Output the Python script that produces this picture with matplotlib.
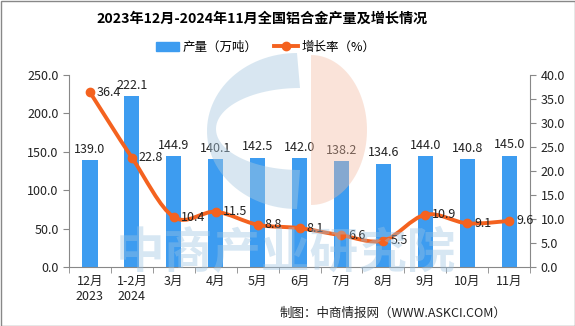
import numpy as np
import matplotlib
matplotlib.use('Agg')
import matplotlib.pyplot as plt
from matplotlib.path import Path
from matplotlib.patches import PathPatch, Rectangle
from matplotlib.lines import Line2D

plt.rcParams['font.family'] = ['Noto Sans CJK SC', 'DejaVu Sans']

title = '2023年12月-2024年11月全国铝合金产量及增长情况'
months = ['12月\n2023', '1-2月\n2024', '3月', '4月', '5月', '6月', '7月', '8月', '9月', '10月', '11月']
output = [139.0, 222.1, 144.9, 140.1, 142.5, 142.0, 138.2, 134.6, 144.0, 140.8, 145.0]
growth = [36.4, 22.8, 10.4, 11.5, 8.8, 8.1, 6.6, 5.5, 10.9, 9.1, 9.6]

bar_color = '#3d9cf0'
line_color = '#f4621f'
txt = '#222222'

fig = plt.figure(figsize=(5.75, 3.26), dpi=100)
ax = fig.add_axes([0.12, 0.181, 0.802, 0.589])
ax2 = ax.twinx()

x = np.arange(len(output))
ax.bar(x, output, width=0.36, color=bar_color, zorder=2)
for xi, v in zip(x, output):
    ax.annotate('%.1f' % v, (xi, v), xytext=(0, 3), textcoords='offset points',
                ha='center', va='bottom', fontsize=9, color=txt)

# smoothed line through the growth points (catmull-rom as bezier)
g = np.array(growth)
pts = np.column_stack([x, g])
verts = [pts[0]]
codes = [Path.MOVETO]
n = len(pts)
for i in range(n - 1):
    p0 = pts[i - 1] if i > 0 else pts[i]
    p1 = pts[i]
    p2 = pts[i + 1]
    p3 = pts[i + 2] if i + 2 < n else pts[i + 1]
    verts += [p1 + (p2 - p0) / 6., p2 - (p3 - p1) / 6., p2]
    codes += [Path.CURVE4] * 3
ax2.add_patch(PathPatch(Path(verts, codes), facecolor='none', edgecolor=line_color,
                        lw=2.8, zorder=3, capstyle='round'))
ax2.plot(x, g, 'o', color=line_color, ms=6, zorder=4)
for xi, v in zip(x, growth):
    ax2.annotate('%.1f' % v, (xi, v), xytext=(5, 0), textcoords='offset points',
                 ha='left', va='center', fontsize=9, color=txt, zorder=5)

ax.set_xlim(-0.5, len(x) - 0.5)
ax.set_ylim(0, 250)
ax.set_yticks(np.arange(0, 251, 50))
ax.set_yticklabels(['%.1f' % t for t in np.arange(0, 251, 50)])
ax2.set_ylim(0, 40)
ax2.set_yticks(np.arange(0, 41, 5))
ax2.set_yticklabels(['%.1f' % t for t in np.arange(0, 41, 5)])

ax.set_xticks(x)
ax.set_xticklabels(months)
ax.set_xticks(np.arange(-0.5, len(x), 1), minor=True)
ax.tick_params(axis='x', which='major', length=0, pad=6, labelsize=9, colors=txt)
ax.tick_params(axis='x', which='minor', length=4, color='#888888')
ax.tick_params(axis='y', length=4, color='#888888', labelsize=9, labelcolor=txt)
ax2.tick_params(axis='y', length=4, color='#888888', labelsize=9, labelcolor=txt)

for a in (ax, ax2):
    a.spines['top'].set_visible(False)
    for s in ('left', 'right', 'bottom'):
        a.spines[s].set_color('#888888')
ax.spines['right'].set_visible(False)
ax2.spines['left'].set_visible(False)
ax2.spines['bottom'].set_visible(False)

fig.text(0.455, 0.943, title, ha='center', va='center', fontsize=10.2, fontweight='bold', color='black')

handles = [Rectangle((0, 0), 1, 1, color=bar_color),
           Line2D([0], [0], color=line_color, lw=2.8, marker='o', ms=6)]
fig.legend(handles, ['产量（万吨）', '增长率（%）'], loc='center', bbox_to_anchor=(0.462, 0.855),
           ncol=2, frameon=False, fontsize=9, handlelength=1.9, columnspacing=1.3, handletextpad=0.3)

fig.text(0.88, 0.04, '制图：中商情报网（WWW.ASKCI.COM）', ha='right', va='center', fontsize=9, color=txt)

# watermark overlay
wm = fig.add_axes([0, 0, 1, 1], zorder=10)
wm.set_xlim(0, 575)
wm.set_ylim(326, 0)
wm.axis('off')
wm.patch.set_alpha(0)
t = np.linspace(np.pi / 2, 3 * np.pi / 2, 60)
outer = np.column_stack([297 + 90 * np.cos(t), 131 - 78 * np.sin(t)])
inner = np.column_stack([300 + 84 * np.cos(t[::-1]), 129 - 41 * np.sin(t[::-1])])
ring = np.vstack([outer, inner, outer[:1]])
wm.add_patch(PathPatch(Path(ring), facecolor='#a9c9e0', edgecolor='none', alpha=0.45))
t2 = np.linspace(-np.pi / 2, np.pi / 2, 60)
half = np.column_stack([311 + 56 * np.cos(t2), 130 - 75 * np.sin(t2)])
wm.add_patch(plt.Polygon(half, closed=True, facecolor='#f3bba2', edgecolor='none', alpha=0.4))
wm.text(286, 254, '中商产业研究院', ha='center', va='center', fontsize=35, fontweight='bold',
        color='#9cc3e2', alpha=0.4)
wm.add_patch(Rectangle((0.5, 0.5), 574, 325, fill=False, edgecolor='#888888', lw=1))

fig.savefig('out.png', dpi=100)
